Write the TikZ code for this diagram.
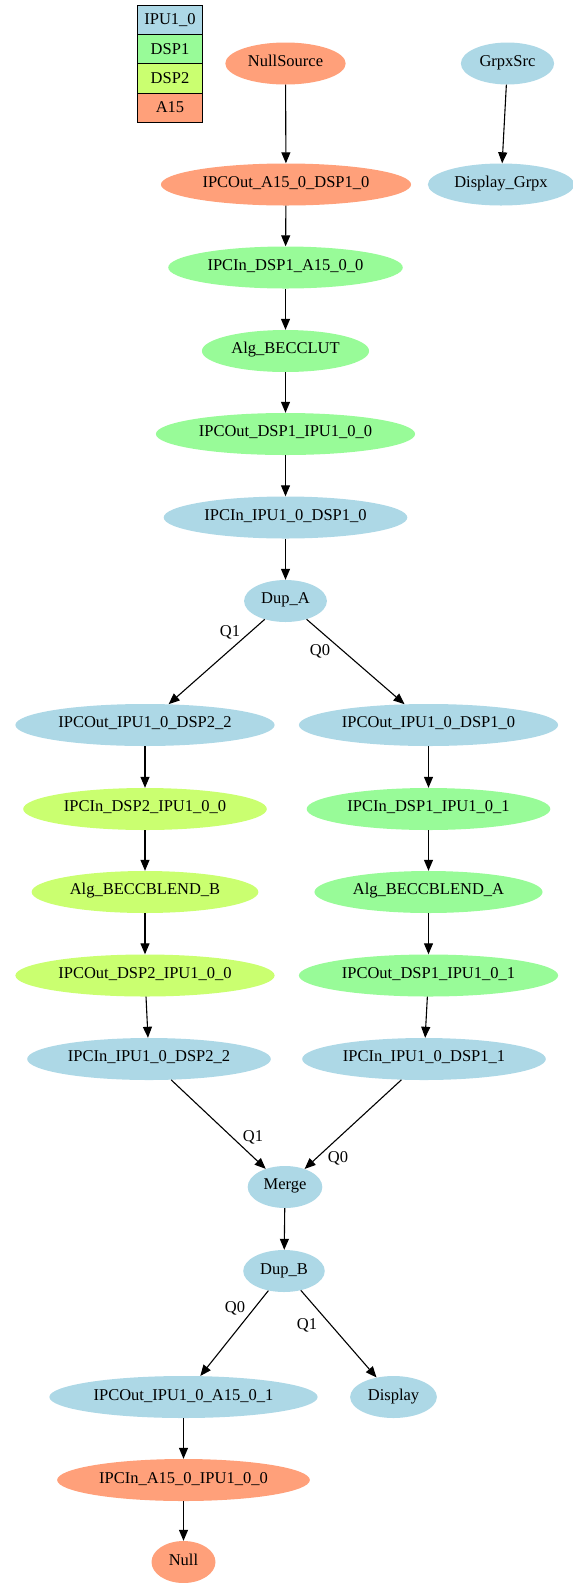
\documentclass[tikz,border=0pt]{standalone}
\usepackage{fontspec}
\setmainfont{Liberation Serif}
\usetikzlibrary{shapes.geometric,arrows.meta}
\definecolor{ipu}{HTML}{ADD8E6}
\definecolor{dspone}{HTML}{98FB98}
\definecolor{dsptwo}{HTML}{CAFF70}
\definecolor{afifteen}{HTML}{FFA07A}
\begin{document}
\begin{tikzpicture}[x=1pt,y=-1pt,font=\fontsize{16.5}{19}\selectfont]
\tikzstyle{arrow}=[-{Triangle[length=11pt,width=9pt]}, draw, line width=1.1pt]
\tikzstyle{proc}=[ellipse, minimum height=42pt, minimum width=64pt, inner xsep=5pt, inner ysep=0pt, text height=1.6ex, text depth=.3ex]
\tikzstyle{legcell}=[rectangle, draw, line width=0.9pt, minimum width=65.5pt, minimum height=29.3pt, inner sep=0pt]
\tikzstyle{elabel}=[inner sep=1pt]
\useasboundingbox (0,0) rectangle (573,1583);

% legend
\node[legcell, fill=ipu] (leg1) at (170,19.7) {IPU1\_0};
\node[legcell, fill=dspone] (leg2) at (170,49) {DSP1};
\node[legcell, fill=dsptwo] (leg3) at (170,78.3) {DSP2};
\node[legcell, fill=afifteen] (leg4) at (170,107.6) {A15};

\node[proc, fill=afifteen] (nullsrc) at (285.5,63.5) {NullSource};
\node[proc, fill=ipu] (grpxsrc) at (507.5,63.5) {GrpxSrc};
\node[proc, fill=afifteen] (outa15) at (286,184.5) {IPCOut\_A15\_0\_DSP1\_0};
\node[proc, fill=ipu] (dispgrpx) at (501,184.5) {Display\_Grpx};
\node[proc, fill=dspone] (indsp1a) at (285.5,267.5) {IPCIn\_DSP1\_A15\_0\_0};
\node[proc, fill=dspone] (becclut) at (285.5,351) {Alg\_BECCLUT};
\node[proc, fill=dspone] (outdsp1) at (285.5,434) {IPCOut\_DSP1\_IPU1\_0\_0};
\node[proc, fill=ipu] (inipu1) at (285.5,517.5) {IPCIn\_IPU1\_0\_DSP1\_0};
\node[proc, fill=ipu] (dupa) at (285.5,601) {Dup\_A};
\node[proc, fill=ipu] (outipudsp2) at (145,725) {IPCOut\_IPU1\_0\_DSP2\_2};
\node[proc, fill=ipu] (outipudsp1) at (428.5,725) {IPCOut\_IPU1\_0\_DSP1\_0};
\node[proc, fill=dsptwo] (indsp2) at (145,809) {IPCIn\_DSP2\_IPU1\_0\_0};
\node[proc, fill=dspone] (indsp1b) at (428.5,809) {IPCIn\_DSP1\_IPU1\_0\_1};
\node[proc, fill=dsptwo] (blendb) at (145,892) {Alg\_BECCBLEND\_B};
\node[proc, fill=dspone] (blenda) at (428.5,892) {Alg\_BECCBLEND\_A};
\node[proc, fill=dsptwo] (outdsp2) at (145,975.5) {IPCOut\_DSP2\_IPU1\_0\_0};
\node[proc, fill=dspone] (outdsp1b) at (428.5,975.5) {IPCOut\_DSP1\_IPU1\_0\_1};
\node[proc, fill=ipu] (inipudsp2) at (149,1059) {IPCIn\_IPU1\_0\_DSP2\_2};
\node[proc, fill=ipu] (inipudsp1) at (424,1059) {IPCIn\_IPU1\_0\_DSP1\_1};
\node[proc, fill=ipu] (merge) at (285,1187) {Merge};
\node[proc, fill=ipu] (dupb) at (284,1271) {Dup\_B};
\node[proc, fill=ipu] (outipua15) at (183.5,1397) {IPCOut\_IPU1\_0\_A15\_0\_1};
\node[proc, fill=ipu] (display) at (393.5,1397) {Display};
\node[proc, fill=afifteen] (ina15) at (183.5,1480) {IPCIn\_A15\_0\_IPU1\_0\_0};
\node[proc, fill=afifteen] (null) at (183.5,1562) {Null};

% queue labels
\node[elabel] (qa1) at (230,632) {Q1};
\node[elabel] (qa0) at (320,651) {Q0};
\node[elabel] (qm1) at (253,1137) {Q1};
\node[elabel] (qm0) at (338,1158) {Q0};
\node[elabel] (qb0) at (235,1308) {Q0};
\node[elabel] (qb1) at (307,1325) {Q1};

\draw[arrow] (nullsrc) edge (outa15);
\draw[arrow] (grpxsrc) edge (dispgrpx);
\draw[arrow] (outa15) edge (indsp1a);
\draw[arrow] (indsp1a) edge (becclut);
\draw[arrow] (becclut) edge (outdsp1);
\draw[arrow] (outdsp1) edge (inipu1);
\draw[arrow] (inipu1) edge (dupa);
\draw[arrow] (dupa) edge (outipudsp2);
\draw[arrow] (dupa) edge (outipudsp1);
\draw[arrow] (outipudsp2) edge (indsp2);
\draw[arrow] (indsp2) edge (blendb);
\draw[arrow] (blendb) edge (outdsp2);
\draw[arrow] (outdsp2) edge (inipudsp2);
\draw[arrow] (outipudsp1) edge (indsp1b);
\draw[arrow] (indsp1b) edge (blenda);
\draw[arrow] (blenda) edge (outdsp1b);
\draw[arrow] (outdsp1b) edge (inipudsp1);
\draw[arrow] (inipudsp2) edge (merge);
\draw[arrow] (inipudsp1) edge (merge);
\draw[arrow] (merge) edge (dupb);
\draw[arrow] (dupb) edge (outipua15);
\draw[arrow] (dupb) edge (display);
\draw[arrow] (outipua15) edge (ina15);
\draw[arrow] (ina15) edge (null);
\end{tikzpicture}
\end{document}
